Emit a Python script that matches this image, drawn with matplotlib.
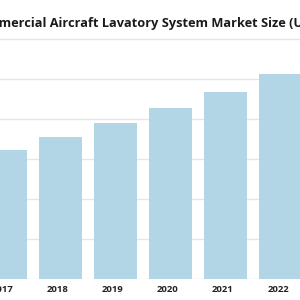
import matplotlib
matplotlib.use("Agg")
import matplotlib.pyplot as plt
import matplotlib.transforms as mtransforms

years = [2017, 2018, 2019, 2020, 2021, 2022]
values = [3.23, 3.55, 3.90, 4.28, 4.68, 5.13]
tick_labels = ["2017", "2018", "2019", "2020", "2021", "2022"]
title = "Commercial Aircraft Lavatory System Market Size (USD Billion)"

W, H, DPI = 300, 300, 100
FONT = "Open Sans"
fig = plt.figure(figsize=(W / DPI, H / DPI), dpi=DPI)
fig.patch.set_facecolor("white")

ax = fig.add_axes([0, 21 / H, 1, 279 / H])
ax.set_facecolor("white")
ax.set_xlim(2016.9, 2016.9 + 300 / 55)
ax.set_ylim(0, 279.5 / 40)

ax.set_yticks([0, 1, 2, 3, 4, 5, 6])
ax.yaxis.grid(True, color="#e6e6e6", linewidth=1.0)
ax.set_axisbelow(True)
ax.tick_params(axis="y", left=False, labelleft=False)
for s in ax.spines.values():
    s.set_visible(False)

ax.bar(years, values, width=0.78, color="#b3d6e6", zorder=2)

ax.set_xticks(years)
ax.set_xticklabels(tick_labels, fontsize=6.8, fontweight="bold", color="#222222",
                   family=FONT)
ax.tick_params(axis="x", bottom=False, pad=0.5)
off = mtransforms.ScaledTranslation(-2.5 / DPI, 0, fig.dpi_scale_trans)
for lbl in ax.get_xticklabels():
    lbl.set_transform(lbl.get_transform() + off)

# title: size so that the visible part spans the width, "mercial" starting at the left edge
fig.canvas.draw()
renderer = fig.canvas.get_renderer()

def width(s, fs):
    t = fig.text(0, 0, s, fontsize=fs, fontweight="bold", family=FONT)
    w = t.get_window_extent(renderer).width
    t.remove()
    return w

fs0 = 10.0
vis = "mercial Aircraft Lavatory System Market Size ("
fs = fs0 * 295 / width(vis, fs0)
w_com = width("Com", fs)
x0 = (-1 - w_com) / W
fig.text(x0, 1 - 27 / H, title, fontsize=fs, fontweight="bold", color="#1a1a1a",
         family=FONT, ha="left", va="baseline")

fig.savefig("out.png", dpi=DPI, facecolor="white")
